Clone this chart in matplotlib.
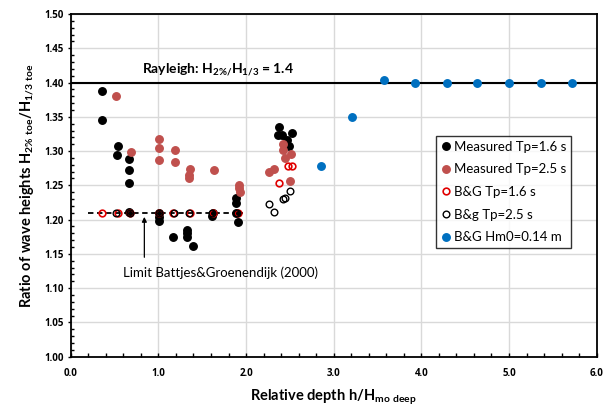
import matplotlib
matplotlib.use("Agg")
import matplotlib.pyplot as plt
from matplotlib.ticker import MultipleLocator, FormatStrFormatter

plt.rcParams['font.family'] = ['Lato', 'DejaVu Sans']
plt.rcParams['mathtext.fontset'] = 'custom'
plt.rcParams['mathtext.rm'] = 'Lato'
plt.rcParams['mathtext.bf'] = 'Lato:bold'

# measured, Tp = 1.6 s
meas16_x = [0.36, 0.36, 0.536, 0.528, 0.665, 0.665, 0.665, 0.665, 1.007, 1.007, 1.007,
            1.167, 1.323, 1.33, 1.33, 1.39, 1.61, 1.62, 1.88, 1.88, 1.905, 1.89,
            2.38, 2.37, 2.41, 2.52, 2.47, 2.49]
meas16_y = [1.387, 1.345, 1.307, 1.295, 1.288, 1.273, 1.253, 1.211, 1.210, 1.204, 1.198,
            1.174, 1.185, 1.180, 1.175, 1.162, 1.206, 1.210, 1.231, 1.224, 1.196, 1.210,
            1.335, 1.324, 1.324, 1.326, 1.316, 1.308]

# measured, Tp = 2.5 s
meas25_x = [0.513, 0.69, 1.007, 1.007, 1.007, 1.186, 1.186, 1.36, 1.35, 1.35, 1.635,
            1.92, 1.92, 1.93, 2.263, 2.32, 2.50, 2.425, 2.418, 2.448, 2.51]
meas25_y = [1.380, 1.298, 1.317, 1.304, 1.287, 1.302, 1.284, 1.274, 1.265, 1.260, 1.273,
            1.250, 1.246, 1.241, 1.269, 1.274, 1.257, 1.311, 1.301, 1.290, 1.296]

# Battjes & Groenendijk, Tp = 1.6 s
bg16_x = [0.36, 0.543, 0.68, 1.007, 1.163, 1.36, 1.627, 1.905, 2.376, 2.475, 2.524]
bg16_y = [1.21, 1.21, 1.21, 1.21, 1.21, 1.21, 1.21, 1.21, 1.253, 1.278, 1.278]

# Battjes & Groenendijk, Tp = 2.5 s
bg25_x = [0.517, 0.676, 1.01, 1.178, 1.35, 1.615, 1.893, 2.266, 2.32, 2.42, 2.445, 2.50]
bg25_y = [1.21, 1.21, 1.21, 1.21, 1.21, 1.21, 1.21, 1.2225, 1.211, 1.230, 1.232, 1.242]

# Battjes & Groenendijk, Hm0 = 0.14 m
bghm_x = [2.86, 3.21, 3.57, 3.93, 4.29, 4.64, 5.0, 5.36, 5.72]
bghm_y = [1.278, 1.350, 1.403, 1.400, 1.400, 1.400, 1.400, 1.400, 1.400]

rayleigh = 1.4
bg_limit = 1.21
bg_limit_x = [0.2, 1.97]

fig = plt.figure(figsize=(6.08, 4.07), dpi=100)
ax = fig.add_axes([0.1163, 0.1236, 0.8651, 0.842])

ax.axhline(rayleigh, color='black', lw=1.5, zorder=2)
ax.plot(bg_limit_x, [bg_limit, bg_limit], color='black', lw=1.3, ls=(0, (3, 2)), zorder=2)

ms = 5.4
ax.plot(meas16_x, meas16_y, 'o', ls='none', color='black', ms=ms, label='Measured Tp=1.6 s', zorder=3)
ax.plot(meas25_x, meas25_y, 'o', ls='none', color='#C0504D', ms=ms, label='Measured Tp=2.5 s', zorder=3)
ax.plot(bg16_x, bg16_y, 'o', ls='none', mfc='none', mec='#E00000', mew=1.2, ms=ms - 0.6,
        label='B&G Tp=1.6 s', zorder=4)
ax.plot(bg25_x, bg25_y, 'o', ls='none', mfc='none', mec='black', mew=1.0, ms=ms - 0.6,
        label='B&g Tp=2.5 s', zorder=4)
ax.plot(bghm_x, bghm_y, 'o', ls='none', color='#0070C0', ms=ms, label='B&G Hm0=0.14 m', zorder=3)

ax.text(0.81, 1.4185, 'Rayleigh: H$_{\\mathbf{2\\%/}}$H$_{\\mathbf{1/3}}$ = 1.4',
        fontsize=10, fontweight='bold', va='center', ha='left')
ax.annotate('', xy=(0.84, 1.208), xytext=(0.84, 1.141),
            arrowprops=dict(arrowstyle='-|>', color='black', lw=0.9, mutation_scale=7))
ax.text(0.593, 1.123, 'Limit Battjes&Groenendijk (2000)', fontsize=9.5, va='center', ha='left')

ax.set_xlim(0, 6)
ax.set_ylim(1.0, 1.5)
ax.xaxis.set_major_locator(MultipleLocator(1.0))
ax.xaxis.set_minor_locator(MultipleLocator(0.2))
ax.yaxis.set_major_locator(MultipleLocator(0.05))
ax.yaxis.set_minor_locator(MultipleLocator(0.01))
ax.xaxis.set_major_formatter(FormatStrFormatter('%.1f'))
ax.yaxis.set_major_formatter(FormatStrFormatter('%.2f'))
ax.grid(True, which='major', color='#D9D9D9', lw=1.0, zorder=0)
ax.set_axisbelow(True)

for sp in ax.spines.values():
    sp.set_linewidth(1.3)
    sp.set_color('black')

ax.tick_params(axis='x', which='major', direction='in', length=3, width=1, pad=8, labelsize=7)
ax.tick_params(axis='x', which='minor', direction='in', length=3, width=1)
ax.tick_params(axis='y', which='major', direction='out', length=2, width=1, pad=3, labelsize=7)
ax.tick_params(axis='y', which='minor', direction='in', length=2.5, width=1)
for lbl in ax.get_xticklabels() + ax.get_yticklabels():
    lbl.set_fontweight('bold')
    lbl.set_family(['Open Sans', 'DejaVu Sans'])

ax.set_xlabel('Relative depth h/H$_{\\mathbf{mo\\ deep}}$', fontsize=10.5, fontweight='bold', labelpad=6)
ax.set_ylabel('Ratio of wave heights H$_{\\mathbf{2\\%\\ toe}}$/H$_{\\mathbf{1/3\\ toe}}$',
              fontsize=10.5, fontweight='bold', labelpad=6)

leg = ax.legend(loc='upper left', bbox_to_anchor=(0.694, 0.645), borderaxespad=0,
                fontsize=9.5, frameon=True, fancybox=False, handlelength=0.7,
                handletextpad=0.25, labelspacing=0.8, borderpad=0.4, markerscale=1.0)
leg.get_frame().set_edgecolor('black')
leg.get_frame().set_linewidth(1.0)

fig.savefig('out.png', dpi=100)
